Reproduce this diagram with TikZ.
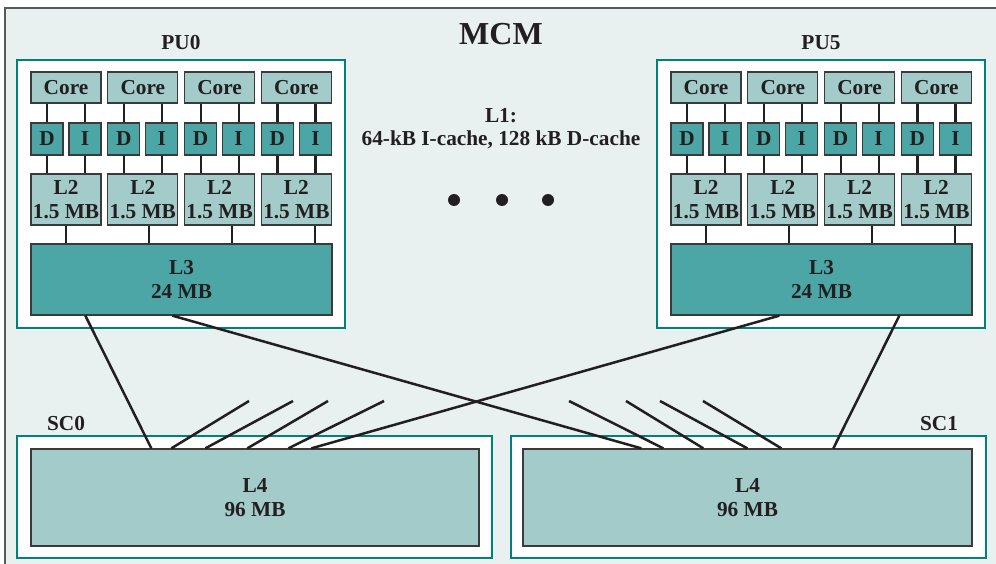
\documentclass[tikz,border=0pt]{standalone}
\usepackage{fontspec}
\setmainfont{Liberation Serif}
\usetikzlibrary{calc}

\begin{document}
\begin{tikzpicture}[x=1pt, y=-1pt,
    cacheText/.style={font=\fontsize{21.3}{24.5}\selectfont\bfseries, text=textColour, align=center, inner sep=1pt},
    lightBox/.style={cacheText, draw=borderColour, fill=lightColour, line width=1.3pt},
    darkBox/.style={cacheText, draw=borderColour, fill=darkColour, line width=1.3pt},
    frameBox/.style={draw=frameColour, fill=white, line width=2.6pt, inner sep=0pt},
    wire/.style={draw=textColour, line width=2.2pt},
    link/.style={draw=textColour, line width=2.5pt},
    dot/.style={circle, fill=textColour, minimum size=12pt, inner sep=0pt}]

    % Define colours
    \definecolor{bgColour}{HTML}{E8F1F0}
    \definecolor{lightColour}{HTML}{A2CBCA}
    \definecolor{darkColour}{HTML}{4BA6A5}
    \definecolor{frameColour}{HTML}{00827C}
    \definecolor{borderColour}{HTML}{3A3A3A}
    \definecolor{textColour}{HTML}{231F20}

    % Fix picture size
    \useasboundingbox (0,0) rectangle (996,564);
    \clip (0,0) rectangle (996,564);

    % Draw MCM background
    \draw[fill=bgColour, draw=gray!70!black, line width=1.2pt] (5,8) rectangle (1010,580);
    \node[cacheText, font=\fontsize{32}{36}\selectfont\bfseries] (mcm) at (501,34) {MCM};
    \node[cacheText, font=\fontsize{21.3}{23}\selectfont\bfseries] (l1) at (501,129) {L1:\\64-kB I-cache, 128 kB D-cache};

    % Draw the dots
    \foreach \k/\x in {1/454, 2/502, 3/548}
        \node[dot] (dot\k) at (\x,200) {};

    % Draw the processor units
    \foreach \p/\dx in {0/0, 5/640} {
        \node[frameBox, minimum width=328, minimum height=268] (pu\p) at (181+\dx,194) {};
        \node[cacheText] (pu\p-label) at (181+\dx,43) {PU\p};
        \foreach \i in {0,...,3} {
            \pgfmathsetmacro{\cx}{66+76.8*\i+\dx}
            \node[lightBox, minimum width=70, minimum height=31] (pu\p-core\i) at (\cx,87.5) {Core};
            \node[darkBox, minimum width=32, minimum height=32] (pu\p-d\i) at (\cx-19,139) {D};
            \node[darkBox, minimum width=32, minimum height=32] (pu\p-i\i) at (\cx+19,139) {I};
            \node[lightBox, minimum width=70, minimum height=51] (pu\p-l2\i) at (\cx,199.5) {L2\\1.5 MB};
            \foreach \c in {d,i} {
                \draw[wire] (pu\p-core\i.south -| pu\p-\c\i.north) -- (pu\p-\c\i.north);
                \draw[wire] (pu\p-\c\i.south) -- (pu\p-l2\i.north -| pu\p-\c\i.south);
            }
        }
        \node[darkBox, minimum width=301, minimum height=71] (pu\p-l3) at (181.5+\dx,279.5) {L3\\24 MB};
        \foreach \i in {0,...,3} {
            \coordinate (tap) at (66+83*\i+\dx,0);
            \draw[wire] (pu\p-l2\i.south -| tap) -- (pu\p-l3.north -| tap);
        }
    }

    % Draw the storage controllers
    \node[frameBox, minimum width=475, minimum height=122] (sc0) at (254.5,497) {};
    \node[lightBox, minimum width=448, minimum height=97] (sc0-l4) at (255,497.5) {L4\\96 MB};
    \node[cacheText] (sc0-label) at (66,424) {SC0};
    \node[frameBox, minimum width=475, minimum height=122] (sc1) at (748.5,497) {};
    \node[lightBox, minimum width=449, minimum height=97] (sc1-l4) at (747.5,497.5) {L4\\96 MB};
    \node[cacheText] (sc1-label) at (939,424) {SC1};

    % Connect L3 to L4
    \draw[link] ($(pu0-l3.south west)+(55,0)$) -- ($(sc0-l4.north west)+(121,0)$);
    \draw[link] ($(pu0-l3.south west)+(142,0)$) -- ($(sc1-l4.north west)+(119,0)$);
    \draw[link] ($(pu5-l3.south west)+(109,0)$) -- ($(sc0-l4.north west)+(281,0)$);
    \draw[link] ($(pu5-l3.south west)+(229,0)$) -- ($(sc1-l4.north west)+(311,0)$);

    % Links to the other processor units
    \foreach \s/\ex [count=\k] in {141/249, 175/293, 217/328, 258/384} {
        \coordinate (sc0-stub\k) at (\ex,401);
        \draw[link] ($(sc0-l4.north west)+(\s,0)$) -- (sc0-stub\k);
    }
    \foreach \s/\ex [count=\k] in {141/569, 181/626, 225/660, 259/703} {
        \coordinate (sc1-stub\k) at (\ex,401);
        \draw[link] ($(sc1-l4.north west)+(\s,0)$) -- (sc1-stub\k);
    }

\end{tikzpicture}
\end{document}
